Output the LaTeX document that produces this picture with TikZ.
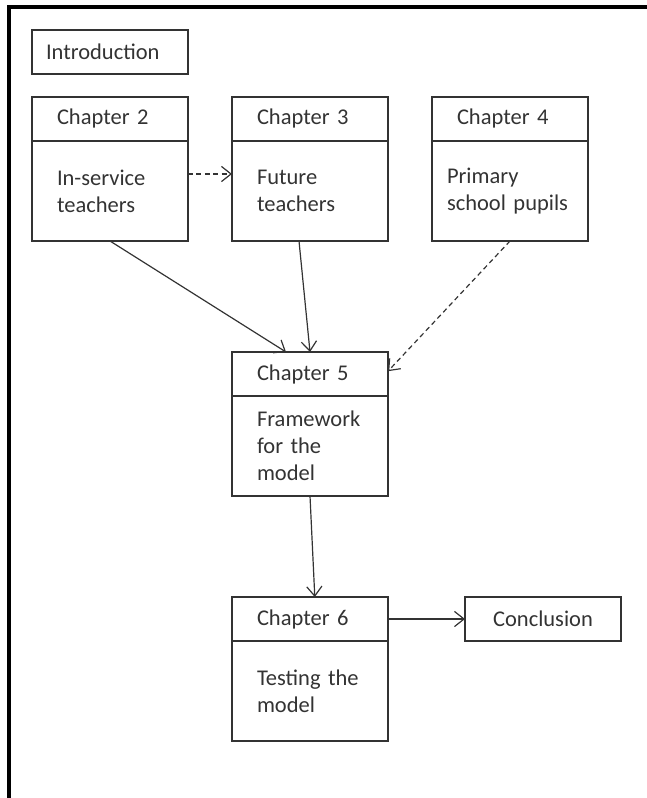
\documentclass[tikz,border=0pt]{standalone}
\usepackage{fontspec}
\setmainfont{Carlito}
\usetikzlibrary{positioning,arrows.meta}
\definecolor{ink}{HTML}{333333}

\begin{document}
\begin{tikzpicture}[
    every node/.style={font=\fontsize{16}{19.2}\selectfont, text=ink},
    box/.style={draw=ink, line width=1.2pt, outer sep=0pt, inner ysep=0pt},
    topic/.style={box, minimum width=3.9cm, minimum height=1.1cm},
    head/.style={box, minimum height=1.1cm, inner xsep=0.625cm, text width=2.65cm, align=left},
    body/.style={box, minimum height=2.5cm, inner xsep=0.625cm, text width=2.65cm, align=left},
    link/.style={draw=ink, line width=0.85pt, -{Straight Barb[length=2.4mm,width=3.8mm]}},
    dashlink/.style={link, dash pattern=on 3.5pt off 2.5pt}
  ]
      \useasboundingbox (0,0) rectangle (16.175,-19.95);
      % frame
      \draw[line width=2.4pt, black] (0.225,-19.95) -- (0.225,-0.175) -- (16.175,-0.175);

      \node[topic, anchor=north west, align=left, text width=3.2cm, inner xsep=0.35cm] (intro) at (0.8,-0.75) {Introduction};

      % first row
      \node[head, below=0.575cm of intro] (c2) {Chapter 2};
      \node[body, below=0pt of c2] (c2b) {In-service\\teachers};
      \node[head, right=1.1cm of c2] (c3) {Chapter 3};
      \node[body, below=0pt of c3] (c3b) {Future\\teachers};
      \node[head, right=1.1cm of c3] (c4) {Chapter 4};
      \node[body, below=0pt of c4, inner xsep=0.375cm, text width=3.15cm] (c4b) {Primary\\school pupils};

      % middle and last
      \node[head, below=2.775cm of c3b] (c5) {Chapter 5};
      \node[body, below=0pt of c5] (c5b) {Framework\\for the\\model};
      \node[head, below=2.525cm of c5b] (c6) {Chapter 6};
      \node[body, below=0pt of c6] (c6b) {Testing the\\model};
      \node[topic, right=1.925cm of c6] (concl) {Conclusion};

      % arrows
      \draw[dashlink] ([yshift=0.425cm]c2b.east) -- ([yshift=0.425cm]c3b.west);
      \draw[link] (c2b.south) -- ([xshift=-0.6cm]c5.north);
      \draw[link] ([xshift=-0.275cm]c3b.south) -- (c5.north);
      \draw[dashlink] (c4b.south) -- ([yshift=0.07cm]c5.east);
      \draw[link] (c5b.south) -- ([xshift=0.12cm]c6.north);
      \draw[link] (c6.east) -- (concl.west);
\end{tikzpicture}
\end{document}
